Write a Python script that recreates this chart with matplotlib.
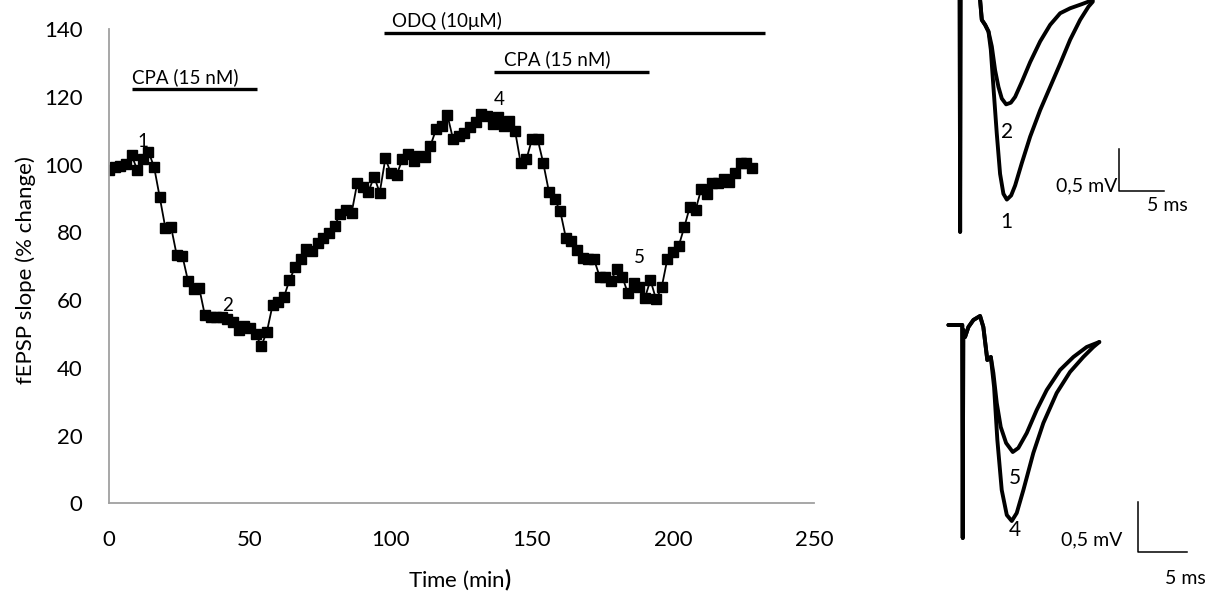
import matplotlib
matplotlib.use("Agg")
import matplotlib.pyplot as plt

plt.rcParams['font.family'] = ['Lato', 'DejaVu Sans']
plt.rcParams['mathtext.fontset'] = 'custom'
plt.rcParams['mathtext.rm'] = 'Lato'
plt.rcParams['mathtext.bf'] = 'Lato:bold'

# fEPSP slope time course, one point every 2 min
time_min = list(range(0, 230, 2))
slope = [98.4, 99.4, 99.6, 100.1, 102.8, 98.4, 101.6, 103.8, 99.2, 90.3,
         81.2, 81.6, 73.3, 73.1, 65.7, 63.2, 63.5, 55.5, 55.1, 55.1,
         55.1, 54.3, 53.6, 51.2, 52.4, 51.8, 50.0, 46.4, 50.7, 58.5,
         59.3, 60.8, 65.9, 69.7, 72.1, 75.0, 74.6, 76.9, 78.2, 79.7,
         81.9, 85.4, 86.6, 85.6, 94.4, 93.3, 92.0, 96.4, 91.7, 101.8,
         97.4, 96.9, 101.5, 103.0, 101.0, 102.6, 102.3, 105.6, 110.4, 111.5,
         114.6, 107.5, 108.4, 109.4, 111.2, 112.6, 114.8, 114.3, 112.0, 113.9,
         111.4, 112.8, 109.9, 100.4, 101.5, 107.5, 107.5, 100.4, 92.0, 89.7,
         86.3, 78.4, 77.5, 74.8, 72.5, 72.0, 72.0, 66.9, 66.8, 65.7,
         69.1, 66.9, 62.0, 64.9, 63.8, 60.5, 65.9, 60.2, 63.8, 72.1,
         74.3, 75.9, 81.5, 87.6, 86.6, 92.7, 91.2, 94.6, 94.4, 95.7,
         94.9, 97.4, 100.5, 100.5, 98.9]

# drug applications (bars above the time course)
drug_names = ['CPA (15 nM)', 'ODQ (10μM)', 'CPA (15 nM)']
drug_start = [8, 97.5, 136.5]
drug_end = [52.5, 232.5, 191.5]
drug_level = [122.2, 138.7, 127.4]
drug_text_t = [8.3, 100.5, 140.0]

# numbered time points whose traces are shown on the right
point_labels = ['1', '2', '4', '5']
point_t = [12.2, 42, 138.3, 188]
point_y = [106.7, 58.5, 119.2, 72.6]

# example traces (ms, mV)
top_shared_t = [-3.0, -0.05, 0.0, 0.05, 1.5, 2.22, 2.41, 2.78, 3.15]
top_shared_v = [0.3, 0.3, -2.8, 0.3, 0.4, 0.0, -0.24, -0.30, -0.38]
trace1_t = [3.41, 3.70, 4.07, 4.44, 4.81, 5.19, 5.67, 6.11, 6.85, 7.78,
            8.89, 10.0, 11.11, 12.22, 13.33, 14.26, 14.74]
trace1_v = [-0.60, -1.05, -1.61, -2.10, -2.34, -2.41, -2.36, -2.24, -1.97, -1.65,
            -1.33, -1.05, -0.77, -0.48, -0.24, -0.08, -0.02]
trace2_t = [3.52, 3.89, 4.26, 4.63, 5.11, 5.63, 6.11, 6.85, 7.78, 8.89,
            10.0, 11.11, 12.22, 13.52, 14.74]
trace2_v = [-0.56, -0.85, -1.05, -1.19, -1.26, -1.24, -1.17, -0.99, -0.75, -0.50,
            -0.30, -0.16, -0.10, -0.05, 0.0]

bot_shared_t = [-1.45, -0.05, 0.0, 0.05, 0.23, 0.57, 1.07, 1.74, 2.07, 2.47, 2.82]
bot_shared_v = [0.0, 0.0, -2.13, -0.05, -0.12, -0.02, 0.05, 0.09, -0.02, -0.35, -0.32]
trace4_t = [3.15, 3.48, 3.92, 4.43, 4.93, 5.43, 6.10, 7.10, 8.11, 9.45,
            10.79, 12.13, 13.14, 13.74]
trace4_v = [-0.62, -1.15, -1.65, -1.90, -1.96, -1.88, -1.65, -1.28, -0.98, -0.68,
            -0.47, -0.32, -0.22, -0.17]
trace5_t = [3.08, 3.42, 3.82, 4.36, 5.03, 5.59, 6.44, 7.44, 8.45, 9.79,
            11.13, 12.47, 13.74]
trace5_v = [-0.48, -0.78, -1.02, -1.18, -1.27, -1.23, -1.08, -0.85, -0.65, -0.45,
            -0.32, -0.22, -0.17]

fig = plt.figure(figsize=(12.14, 5.91), dpi=100)

# ---- time course ----
ax = fig.add_axes([0.0898, 0.1484, 0.5807, 0.8025])
ax.plot(time_min, slope, color='black', lw=1.3, marker='s', ms=6.5,
        markeredgecolor='black', markerfacecolor='black')

for name, t0, t1, lvl, tx in zip(drug_names, drug_start, drug_end, drug_level, drug_text_t):
    ax.plot([t0, t1], [lvl, lvl], color='black', lw=2.4, solid_capstyle='butt')
    ax.text(tx, lvl + 0.9, name, fontsize=13.5, ha='left', va='bottom')

for lab, t, y in zip(point_labels, point_t, point_y):
    ax.text(t, y, lab, fontsize=13.5, ha='center', va='center')

ax.set_xlim(0, 250)
ax.set_ylim(0, 140)
ax.set_xticks(range(0, 251, 50))
ax.set_yticks(range(0, 141, 20))
ax.tick_params(length=0, labelsize=16, pad=19)
for side in ['top', 'right']:
    ax.spines[side].set_visible(False)
for side in ['left', 'bottom']:
    ax.spines[side].set_color('#a0a0a0')
    ax.spines[side].set_linewidth(1.3)

ax.set_ylabel('fEPSP slope (% change)', fontsize=16)
ax.yaxis.set_label_coords(-0.104, 0.492)
ax.set_xlabel('Time (min$\\mathbf{)}$', fontsize=16)
ax.xaxis.set_label_coords(0.498, -0.133)


def draw_traces(axt, shared_t, shared_v, traces, bar_t, bar_v, bar_len_t, bar_len_v, lw):
    for tt, vv in traces:
        axt.plot(shared_t + tt, shared_v + vv, color='black', lw=lw,
                 solid_joinstyle='round', solid_capstyle='round')
    axt.plot([bar_t, bar_t, bar_t + bar_len_t],
             [bar_v, bar_v - bar_len_v, bar_v - bar_len_v], color='black', lw=1.1)
    axt.axis('off')


# ---- traces 1 and 2 ----
ax1 = fig.add_axes([0.7414, 0.560, 0.2586, 0.44])
draw_traces(ax1, top_shared_t, top_shared_v,
            [(trace1_t, trace1_v), (trace2_t, trace2_v)],
            17.67, -1.805, 5, 0.5, 2.8)
ax1.set_xlim(-6.67, 28.2)
ax1.set_ylim(-3.14, 0)
ax1.text(17.5, -2.24, '0,5 mV', fontsize=14, ha='right', va='center')
ax1.text(23.0, -2.48, '5 ms', fontsize=14, ha='center', va='center')
ax1.text(5.19, -1.59, '2', fontsize=15, ha='center', va='center')
ax1.text(5.11, -2.68, '1', fontsize=15, ha='center', va='center')

# ---- traces 4 and 5 ----
ax2 = fig.add_axes([0.7414, 0.0, 0.2586, 0.4924])
draw_traces(ax2, bot_shared_t, bot_shared_v,
            [(trace4_t, trace4_v), (trace5_t, trace5_v)],
            17.6, -1.767, 5, 0.5, 2.8)
ax2.set_xlim(-6.31, 25.28)
ax2.set_ylim(-2.66, 0.25)
ax2.text(16.1, -2.15, '0,5 mV', fontsize=14, ha='right', va='center')
ax2.text(22.4, -2.54, '5 ms', fontsize=14, ha='center', va='center')
ax2.text(5.26, -1.53, '5', fontsize=15, ha='center', va='center')
ax2.text(5.26, -2.05, '4', fontsize=15, ha='center', va='center')

fig.savefig('out.png', dpi=100)
